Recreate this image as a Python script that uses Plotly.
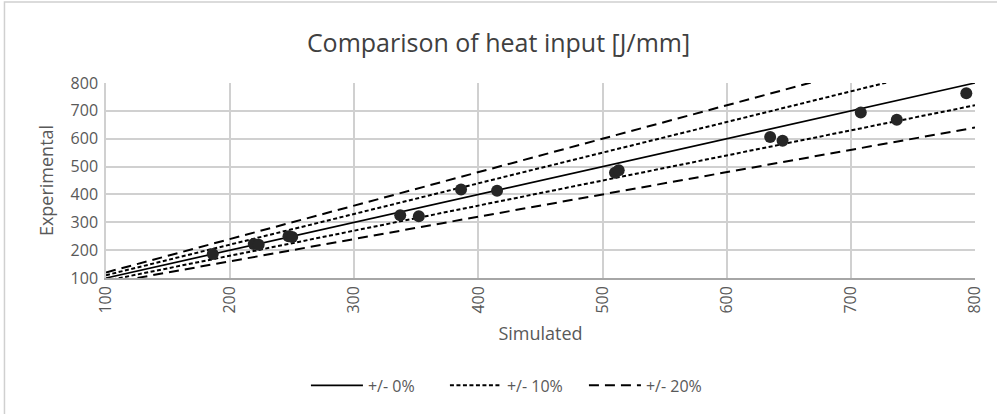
import plotly.graph_objects as go

# Data
simulated = [186, 219, 223, 247, 250, 337, 352, 386, 415, 510, 513, 635, 645, 708, 737, 793]
experimental = [186, 222, 219, 250, 247, 325, 322, 418, 413, 478, 487, 606, 593, 694, 668, 763]

line_x = [100, 800]
ratio_0 = [1.0, 1.0]
ratio_10_up = [1.1, 1.1]
ratio_10_dn = [0.9, 0.9]
ratio_20_up = [1.2, 1.2]
ratio_20_dn = [0.8, 0.8]

x_ticks = [100, 200, 300, 400, 500, 600, 700, 800]
y_ticks = [100, 200, 300, 400, 500, 600, 700, 800]

fnt = "Open Sans, Noto Sans, sans-serif"
grey = "#595959"
dash10 = "4px,2.5px"
dash20 = "10px,6px"

fig = go.Figure()

def ys(r):
    return [x * k for x, k in zip(line_x, r)]

fig.add_trace(go.Scatter(x=line_x, y=ys(ratio_0), mode="lines", name="+/- 0%",
                         line=dict(color="black", width=1.7)))
fig.add_trace(go.Scatter(x=line_x, y=ys(ratio_10_up), mode="lines", name="+/- 10%",
                         legendgroup="10", line=dict(color="black", width=2, dash=dash10)))
fig.add_trace(go.Scatter(x=line_x, y=ys(ratio_10_dn), mode="lines", name="+/- 10%",
                         legendgroup="10", showlegend=False,
                         line=dict(color="black", width=2, dash=dash10)))
fig.add_trace(go.Scatter(x=line_x, y=ys(ratio_20_up), mode="lines", name="+/- 20%",
                         legendgroup="20", line=dict(color="black", width=2, dash=dash20)))
fig.add_trace(go.Scatter(x=line_x, y=ys(ratio_20_dn), mode="lines", name="+/- 20%",
                         legendgroup="20", showlegend=False,
                         line=dict(color="black", width=2, dash=dash20)))
fig.add_trace(go.Scatter(x=simulated, y=experimental, mode="markers", name="Data",
                         showlegend=False,
                         marker=dict(color="#262626", size=12), cliponaxis=False))

L, R, T, B = 106, 18, 83, 135
PW, PH = 997 - L - R, 414 - T - B

fig.update_layout(
    width=997, height=414,
    margin=dict(l=L, r=R, t=T, b=B),
    paper_bgcolor="white", plot_bgcolor="white",
    font=dict(family=fnt, color=grey, size=16),
    title=dict(text="Comparison of heat input [J/mm]", x=0.5, xanchor="center",
               y=1 - 43 / 414, yanchor="middle",
               font=dict(family=fnt, size=25, color="#404040")),
    legend=dict(orientation="h", x=0.47, xanchor="center", y=(279 - 387) / PH, yanchor="middle",
                font=dict(family=fnt, size=16, color=grey), itemwidth=52,
                entrywidth=72, entrywidthmode="pixels",
                tracegroupgap=0),
    shapes=[dict(type="rect", xref="paper", yref="paper",
                 x0=-(L - 4) / PW, x1=(997 - L + 6) / PW,
                 y0=-(B + 6) / PH, y1=(T - 1.5) / PH + 1,
                 line=dict(color="#d0d0d0", width=1.5), layer="below")],
)

fig.update_xaxes(range=[100, 800], tickvals=x_ticks, tickangle=-90,
                 showgrid=True, gridcolor="#d0d0d0", gridwidth=1.5,
                 showline=True, linecolor="#a6a6a6", linewidth=1.5,
                 zeroline=False, ticks="", ticklabelstandoff=0,
                 title=dict(text="Simulated", font=dict(size=18, color=grey), standoff=15),
                 tickfont=dict(size=16, color=grey))
fig.update_yaxes(range=[100, 800], tickvals=y_ticks,
                 showgrid=True, gridcolor="#d0d0d0", gridwidth=1.5,
                 showline=True, linecolor="#d0d0d0", linewidth=1.5,
                 zeroline=False, ticks="", ticklabelstandoff=3,
                 title=dict(text="Experimental", font=dict(size=18, color=grey), standoff=12),
                 tickfont=dict(size=16, color=grey))

fig.write_html("out.html", config={"displayModeBar": False},
               post_script="document.body.style.margin='0';")
